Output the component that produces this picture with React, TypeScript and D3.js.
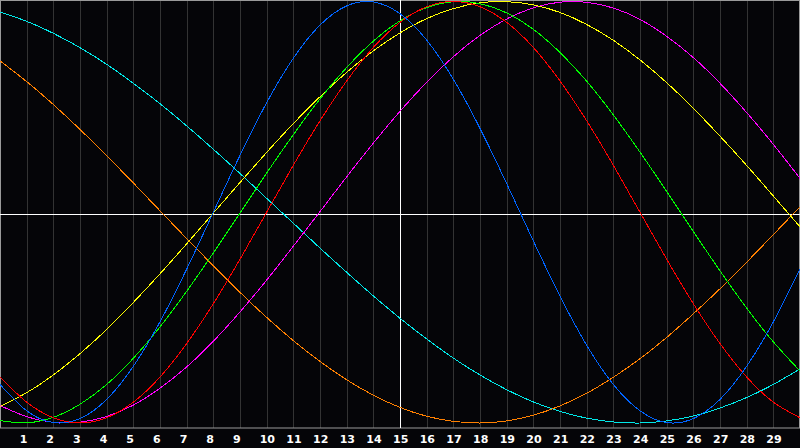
import React from 'react';
import * as d3 from 'd3';

// days 0..30, values in percent of the cycle amplitude
const days = d3.range(0, 31);
const dayLabels = d3.range(1, 30).map(String);

const physical = [-81.7, -94.2, -99.8, -97.9, -88.8, -73.1, -52.0, -27.0, 0, 27.0, 52.0, 73.1, 88.8, 97.9, 99.8, 94.2, 81.7, 63.1, 39.8, 13.6, -13.6, -39.8, -63.1, -81.7, -94.2, -99.8, -97.9, -88.8, -73.1, -52.0, -27.0];
const emotional = [-78.2, -90.1, -97.5, -100, -97.5, -90.1, -78.2, -62.3, -43.4, -22.3, 0, 22.3, 43.4, 62.3, 78.2, 90.1, 97.5, 100, 97.5, 90.1, 78.2, 62.3, 43.4, 22.3, 0, -22.3, -43.4, -62.3, -78.2, -90.1, -97.5];
const intellectual = [-98.9, -99.9, -97.3, -91.1, -81.7, -69.3, -54.4, -37.5, -19.3, -0.4, 18.6, 36.8, 53.8, 68.7, 81.2, 90.8, 97.1, 99.9, 99.0, 94.6, 86.8, 75.8, 62.2, 46.2, 28.5, 9.9, -9.1, -27.8, -45.5, -61.5, -75.3];
const intuitive = [-91.7, -97.0, -99.7, -99.6, -96.9, -91.5, -83.5, -73.4, -61.2, -47.3, -32.2, -16.1, 0.3, 16.8, 32.8, 47.9, 61.7, 73.8, 83.9, 91.7, 97.0, 99.7, 99.6, 96.9, 91.5, 83.5, 73.4, 61.2, 47.3, 32.2, 16.1];
const aesthetic = [-92.2, -85.6, -77.2, -67.1, -55.6, -42.8, -29.2, -15.0, -0.4, 14.1, 28.4, 42.1, 54.8, 66.4, 76.6, 85.1, 91.9, 96.6, 99.4, 99.9, 98.4, 94.8, 89.1, 81.6, 72.3, 61.5, 49.3, 36.1, 22.2, 7.7, -6.9];
const awareness = [71.8, 62.0, 51.1, 39.3, 26.8, 13.9, 0.7, -12.5, -25.4, -38.0, -49.9, -60.9, -70.8, -79.5, -86.8, -92.6, -96.8, -99.2, -100, -99.0, -96.3, -91.9, -85.9, -78.3, -69.5, -59.4, -48.2, -36.3, -23.7, -10.6, 2.6];
const spiritual = [95.0, 90.6, 84.9, 78.1, 70.2, 61.2, 51.5, 41.0, 29.9, 18.4, 6.6, -5.2, -17.0, -28.5, -39.7, -50.3, -60.1, -69.2, -77.2, -84.2, -90.0, -94.5, -97.7, -99.5, -100, -99.0, -96.7, -92.9, -87.9, -81.7, -74.3];

const seriesList = [
  { name: 'spiritual', values: spiritual, color: '#00e8e8' },
  { name: 'awareness', values: awareness, color: '#ff8000' },
  { name: 'intuitive', values: intuitive, color: '#ff00ff' },
  { name: 'aesthetic', values: aesthetic, color: '#ffff00' },
  { name: 'intellectual', values: intellectual, color: '#00ff00' },
  { name: 'emotional', values: emotional, color: '#ff0000' },
  { name: 'physical', values: physical, color: '#0064ff' },
];

export default function App() {
  const width = 800;
  const height = 448;
  const plotBottom = 428;

  const x = d3.scaleLinear().domain([0, 30]).range([0, width]);
  const y = d3.scaleLinear().domain([-100, 100]).range([423, 1.5]);

  const line = d3.line<number>()
    .x((_, i) => x(days[i]))
    .y(d => y(d))
    .curve(d3.curveNatural);

  return (
    <svg width={width} height={height} style={{ position: 'fixed', left: 0, top: 0, display: 'block' }}>
      <rect x={0} y={0} width={width} height={height} fill="#050508" />

      {/* day grid */}
      {d3.range(1, 30).filter(k => k !== 15).map(k => (
        <line key={k} x1={Math.round(x(k)) + 0.5} x2={Math.round(x(k)) + 0.5} y1={0} y2={plotBottom}
          stroke="#333333" strokeWidth={1} />
      ))}

      {/* border */}
      <rect x={0.5} y={0.5} width={width - 1} height={plotBottom - 0.5} fill="none" stroke="#9a9a9a" strokeWidth={1} />

      {/* centre cross */}
      <line x1={0} x2={width} y1={214.5} y2={214.5} stroke="#ffffff" strokeWidth={1} />
      <line x1={x(15) + 0.5} x2={x(15) + 0.5} y1={0} y2={plotBottom} stroke="#ffffff" strokeWidth={1} />

      {seriesList.map(s => (
        <path key={s.name} d={line(s.values) || ''} fill="none" stroke={s.color} strokeWidth={1}
          shapeRendering="crispEdges" />
      ))}

      {dayLabels.map((t, i) => (
        <text key={t} x={x(i + 1) - 7} y={443} fill="#ffffff" fontFamily="DejaVu Sans" fontWeight="bold"
          fontSize={11}>{t}</text>
      ))}
    </svg>
  );
}
